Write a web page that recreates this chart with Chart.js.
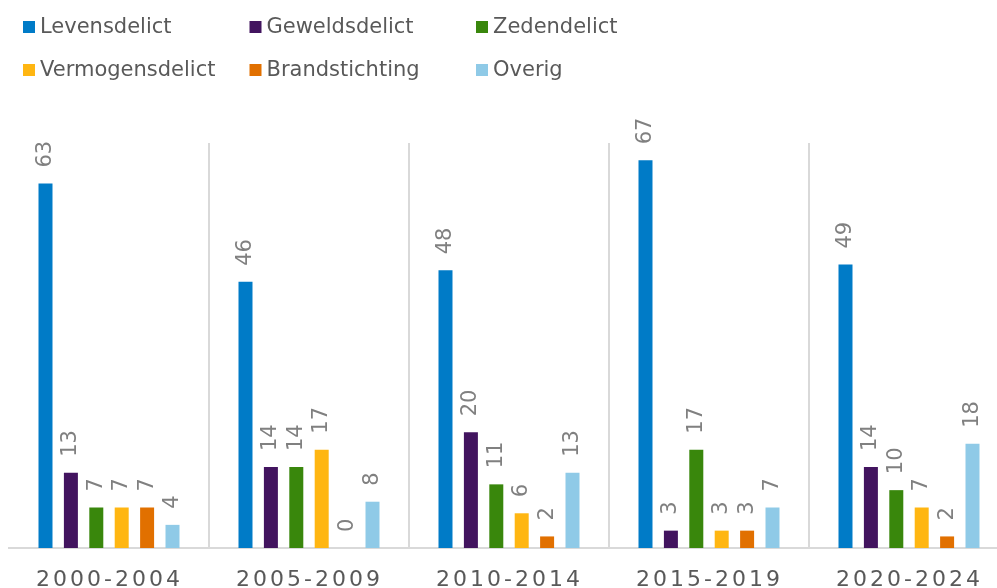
<!DOCTYPE html>
<html><head><meta charset="utf-8">
<script src="https://cdn.jsdelivr.net/npm/chart.js@4/dist/chart.umd.min.js"></script>
<style>
html,body{margin:0;padding:0;background:#fff;overflow:hidden;width:997px;height:588px;}
#wrap{position:absolute;left:0;top:0;width:1010px;height:588px;}
</style></head>
<body><div id="wrap"><canvas id="c" width="1010" height="588"></canvas></div>
<script>
const categories = ['2000-2004','2005-2009','2010-2014','2015-2019','2020-2024'];
const seriesNames = ['Levensdelict','Geweldsdelict','Zedendelict','Vermogensdelict','Brandstichting','Overig'];
const levensdelict    = [63, 46, 48, 67, 49];
const geweldsdelict   = [13, 14, 20, 3, 14];
const zedendelict     = [7, 14, 11, 17, 10];
const vermogensdelict = [7, 17, 6, 3, 7];
const brandstichting  = [7, 0, 2, 3, 2];
const overig          = [4, 8, 13, 7, 18];
const colors = ['#007BC7','#42145F','#39870C','#FFB612','#E17000','#8FCAE7'];
const seriesValues = [levensdelict, geweldsdelict, zedendelict, vermogensdelict, brandstichting, overig];

const FONT = '"DejaVu Sans", Verdana, sans-serif';

const labelPlugin = {
  id: 'customText',
  afterDatasetsDraw(chart) {
    const ctx = chart.ctx;
    ctx.save();
    ctx.fillStyle = '#808080';
    ctx.font = '21px ' + FONT;
    ctx.textAlign = 'left';
    ctx.textBaseline = 'middle';
    chart.data.datasets.forEach((ds, di) => {
      chart.getDatasetMeta(di).data.forEach((bar, i) => {
        ctx.save();
        ctx.translate(bar.x, bar.y - 16);
        ctx.rotate(-Math.PI / 2);
        ctx.fillText(String(ds.data[i]), 0, 0);
        ctx.restore();
      });
    });
    // x labels with letter spacing
    const xs = chart.scales.x;
    ctx.fillStyle = '#595959';
    ctx.font = '22px ' + FONT;
    ctx.textAlign = 'center';
    ctx.textBaseline = 'alphabetic';
    ctx.letterSpacing = '3px';
    categories.forEach((c, i) => {
      ctx.fillText(c, xs.getPixelForValue(i) + 0.5, 586);
    });
    ctx.letterSpacing = '0px';
    // legend
    ctx.font = '21px ' + FONT;
    ctx.textAlign = 'left';
    ctx.textBaseline = 'middle';
    chart.data.datasets.forEach((ds, di) => {
      const col = di % 3, row = Math.floor(di / 3);
      const x = 23 + col * 226.5, y = 27 + row * 43;
      ctx.fillStyle = ds.backgroundColor;
      ctx.fillRect(x, y - 6, 12, 12);
      ctx.fillStyle = '#595959';
      ctx.fillText(ds.label, x + 17, y + 1);
    });
    ctx.restore();
  }
};

new Chart(document.getElementById('c'), {
  type: 'bar',
  data: {
    labels: categories,
    datasets: seriesNames.map((n, i) => ({
      label: n,
      data: seriesValues[i],
      backgroundColor: colors[i],
      borderWidth: 0,
      categoryPercentage: 0.762,
      barPercentage: 0.551
    }))
  },
  options: {
    responsive: false,
    animation: false,
    layout: { padding: { left: 9, right: 1, top: 143, bottom: 40 } },
    plugins: { legend: { display: false }, tooltip: { enabled: false } },
    scales: {
      x: {
        ticks: { display: false },
        grid: {
          offset: true,
          drawTicks: false,
          lineWidth: 2,
          color: (c) => c.index === 0 ? 'rgba(0,0,0,0)' : '#d9d9d9'
        },
        border: { display: true, color: '#d9d9d9', width: 2 }
      },
      y: { display: false, min: 0, max: 70 }
    }
  },
  plugins: [labelPlugin]
});
</script></body></html>
